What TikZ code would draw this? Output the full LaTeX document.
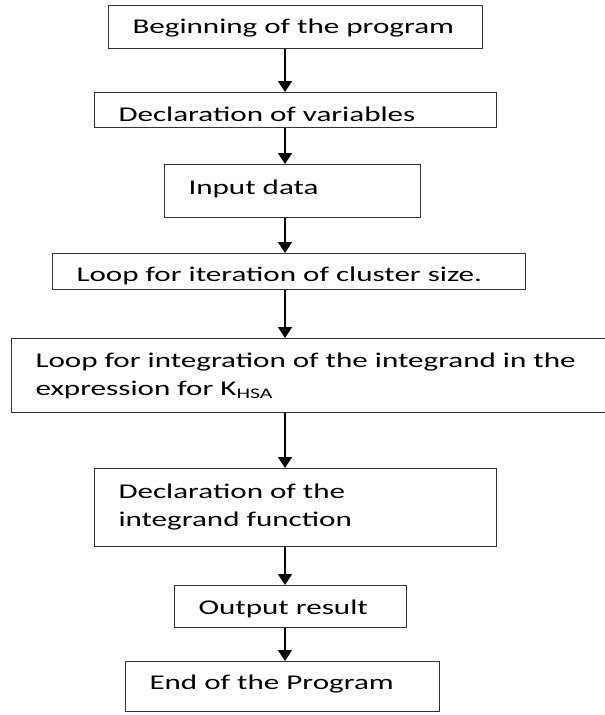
\documentclass[tikz,border=0pt]{standalone}
\usepackage{fontspec}
\setmainfont{Carlito}[FakeStretch=1.48]
\usetikzlibrary{arrows.meta}

\tikzset{
	stage/.style = {draw = black!80, line width = 1pt, inner xsep = 24pt, inner ysep = 0pt,
		align = left, anchor = north west, font = \fontsize{21}{28}\selectfont},
	flow/.style = {->, line width = 1.6pt}
}

\begin{document}
\begin{tikzpicture}[> = {Triangle[width = 14pt, length = 11pt]}]

	% Page size of the chart
	
	\useasboundingbox (0, 0) rectangle (605pt, -715pt);
	
	% The vertical line the arrows run on
	
	\coordinate (axis) at (285pt, 0);
	
	% The eight stages
	
	\node [stage, text width = 326pt, minimum height = 43pt, text height = 17.5pt] (begin) at (108pt, -5pt) {Beginning of the program};
	\node [stage, text width = 354pt, minimum height = 35pt, text height = 23pt] (declvar) at (94pt, -92pt) {Declaration of variables};
	\node [stage, text width = 208pt, minimum height = 53pt, text height = 10pt] (input) at (164pt, -164pt) {Input data};
	\node [stage, text width = 425pt, minimum height = 36pt, text height = 24pt] (iterloop) at (52pt, -253pt) {Loop for iteration of cluster size.};
	\node [stage, text width = 552pt, minimum height = 74pt] (intloop) at (11pt, -338pt) {Loop for integration of the integrand in the\\expression for K\textsubscript{HSA}};
	\node [stage, text width = 354pt, minimum height = 78pt] (declfun) at (94pt, -468pt) {Declaration of the\\integrand function};
	\node [stage, text width = 184pt, minimum height = 42pt, text height = 18.5pt] (output) at (174pt, -585pt) {Output result};
	\node [stage, text width = 266pt, minimum height = 50pt, text height = 10.5pt] (finish) at (125pt, -661pt) {End of the Program};
	
	% Arrows between the stages
	
	\begin{scope}[flow]
	
		\draw (begin.south -| axis) -- (declvar.north -| axis);
		\draw (declvar.south -| axis) -- (input.north -| axis);
		\draw (input.south -| axis) -- (iterloop.north -| axis);
		\draw (iterloop.south -| axis) -- (intloop.north -| axis);
		\draw (intloop.south -| axis) -- (declfun.north -| axis);
		\draw (declfun.south -| axis) -- (output.north -| axis);
		\draw (output.south -| axis) -- (finish.north -| axis);
		
	\end{scope}

\end{tikzpicture}
\end{document}
